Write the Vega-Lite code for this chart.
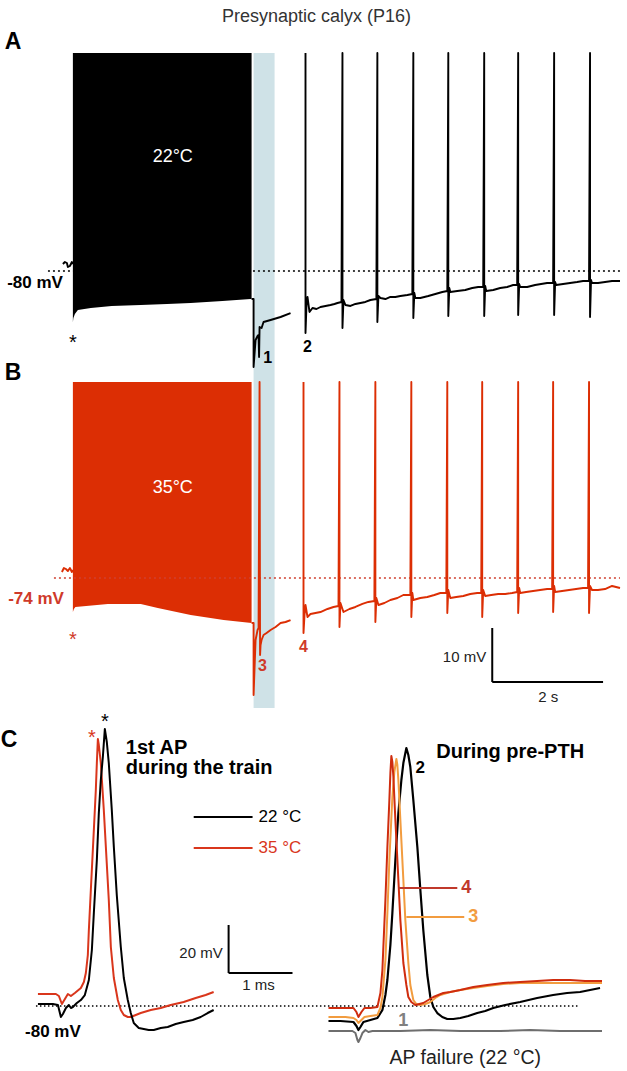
{
"$schema":"https://vega.github.io/schema/vega-lite/v6.json",
"width":627,"height":1071,"autosize":{"type":"fit","contains":"padding"},"padding":0,"background":"white",
"config":{"view":{"stroke":null},"text":{"font":"Liberation Sans"}},
"resolve":{"scale":{"x":"independent","y":"independent"}},
"layer":[
{"layer":[
 {"data":{"values":[{"t1":3.261,"t2":3.640,"v1":-39.63,"v2":-160.93}]},"mark":{"type":"rect","color":"#cfe2e7"},
  "encoding":{"x":{"field":"t1","type":"quantitative","scale":{"domain":[-1.2973,10],"nice":false,"zero":false},"axis":null},"x2":{"field":"t2"},
   "y":{"field":"v1","type":"quantitative","scale":{"domain":[-228.15,-29.815],"nice":false,"zero":false},"axis":null},"y2":{"field":"v2"}}},
 {"data":{"values":[{"t":0,"hi":-39.63,"lo":-89.44},{"t":0.009,"hi":-39.63,"lo":-88.7},{"t":0.036,"hi":-39.63,"lo":-87.96},{"t":0.09,"hi":-39.63,"lo":-87.22},{"t":0.324,"hi":-39.63,"lo":-86.85},{"t":0.7,"hi":-39.63,"lo":-86.48},{"t":1.225,"hi":-39.63,"lo":-86.3},{"t":1.7,"hi":-39.63,"lo":-86.11},{"t":2.126,"hi":-39.63,"lo":-85.93},{"t":2.7,"hi":-39.63,"lo":-85.56},{"t":3.207,"hi":-39.63,"lo":-85.19},{"t":3.225,"hi":-39.63,"lo":-85.19}]},
  "mark":{"type":"area","color":"#000000","opacity":1},
  "encoding":{"x":{"field":"t","type":"quantitative","scale":{"domain":[-1.2973,10],"nice":false,"zero":false},"axis":null},
   "y":{"field":"hi","type":"quantitative","scale":{"domain":[-228.15,-29.815],"nice":false,"zero":false},"axis":null},"y2":{"field":"lo"}}},
 {"data":{"values":[{"t1":-0.45,"t2":9.874,"v":-80}]},"mark":{"type":"rule","color":"#000000","strokeDash":[2,3],"strokeWidth":1.7},
  "encoding":{"x":{"field":"t1","type":"quantitative","scale":{"domain":[-1.2973,10],"nice":false,"zero":false},"axis":null},"x2":{"field":"t2"},
   "y":{"field":"v","type":"quantitative","scale":{"domain":[-228.15,-29.815],"nice":false,"zero":false},"axis":null}}},
 {"data":{"values":[
  {"s":0,"t":-0.18,"v":-78.7},{"s":0,"t":-0.144,"v":-78.33},{"s":0,"t":-0.108,"v":-78.52},{"s":0,"t":-0.09,"v":-79.26},{"s":0,"t":-0.054,"v":-79.07},{"s":0,"t":-0.018,"v":-78.33},{"s":0,"t":0,"v":-78.7},
  {"s":1,"t":3.225,"v":-85.19},{"s":1,"t":3.261,"v":-85.19},{"s":1,"t":3.261,"v":-97.78},{"s":1,"t":3.297,"v":-92.78},{"s":1,"t":3.333,"v":-92.04},{"s":1,"t":3.351,"v":-91.85},{"s":1,"t":3.36,"v":-95.93},{"s":1,"t":3.369,"v":-90.37},{"s":1,"t":3.405,"v":-90.56},{"s":1,"t":3.441,"v":-89.44},{"s":1,"t":3.568,"v":-89.07},{"s":1,"t":3.748,"v":-88.52},{"s":1,"t":3.928,"v":-87.78},
  {"s":2,"t":4.198,"v":-39.63},{"s":2,"t":4.198,"v":-91.48},{"s":2,"t":4.216,"v":-86.3},{"s":2,"t":4.234,"v":-84.81},{"s":2,"t":4.27,"v":-87.59},{"s":2,"t":4.324,"v":-86.85},{"s":2,"t":4.396,"v":-87.04},{"s":2,"t":4.468,"v":-86.67},{"s":2,"t":4.559,"v":-86.48},{"s":2,"t":4.649,"v":-86.3},{"s":2,"t":4.721,"v":-86.11},{"s":2,"t":4.775,"v":-85.93},{"s":2,"t":4.847,"v":-85.74},
  {"s":2,"t":4.865,"v":-39.63},{"s":2,"t":4.865,"v":-90.56},{"s":2,"t":4.883,"v":-85.37},{"s":2,"t":4.919,"v":-86.3},{"s":2,"t":5.009,"v":-86.48},{"s":2,"t":5.099,"v":-86.11},{"s":2,"t":5.189,"v":-85.93},{"s":2,"t":5.279,"v":-85.74},{"s":2,"t":5.369,"v":-85.37},{"s":2,"t":5.477,"v":-85.19},
  {"s":2,"t":5.495,"v":-39.63},{"s":2,"t":5.495,"v":-89.44},{"s":2,"t":5.514,"v":-84.63},{"s":2,"t":5.55,"v":-85.0},{"s":2,"t":5.64,"v":-85.19},{"s":2,"t":5.73,"v":-84.81},{"s":2,"t":5.82,"v":-84.81},{"s":2,"t":5.91,"v":-84.63},{"s":2,"t":6.036,"v":-84.44},{"s":2,"t":6.126,"v":-84.26},
  {"s":2,"t":6.144,"v":-39.63},{"s":2,"t":6.144,"v":-88.7},{"s":2,"t":6.162,"v":-84.07},{"s":2,"t":6.18,"v":-85.0},{"s":2,"t":6.27,"v":-85.0},{"s":2,"t":6.414,"v":-84.63},{"s":2,"t":6.541,"v":-84.26},{"s":2,"t":6.667,"v":-83.89},{"s":2,"t":6.757,"v":-83.7},
  {"s":2,"t":6.775,"v":-39.63},{"s":2,"t":6.775,"v":-88.33},{"s":2,"t":6.793,"v":-83.15},{"s":2,"t":6.811,"v":-83.89},{"s":2,"t":6.937,"v":-83.7},{"s":2,"t":7.081,"v":-83.52},{"s":2,"t":7.207,"v":-83.15},{"s":2,"t":7.315,"v":-82.96},{"s":2,"t":7.405,"v":-82.96},
  {"s":2,"t":7.423,"v":-39.63},{"s":2,"t":7.423,"v":-88.33},{"s":2,"t":7.441,"v":-82.78},{"s":2,"t":7.459,"v":-83.7},{"s":2,"t":7.586,"v":-83.52},{"s":2,"t":7.712,"v":-83.15},{"s":2,"t":7.838,"v":-82.96},{"s":2,"t":7.946,"v":-82.59},{"s":2,"t":8.018,"v":-82.59},
  {"s":2,"t":8.036,"v":-39.63},{"s":2,"t":8.036,"v":-88.15},{"s":2,"t":8.054,"v":-82.41},{"s":2,"t":8.072,"v":-82.96},{"s":2,"t":8.198,"v":-82.96},{"s":2,"t":8.342,"v":-82.59},{"s":2,"t":8.45,"v":-82.41},{"s":2,"t":8.559,"v":-82.22},{"s":2,"t":8.667,"v":-82.22},
  {"s":2,"t":8.685,"v":-39.63},{"s":2,"t":8.685,"v":-88.15},{"s":2,"t":8.703,"v":-82.04},{"s":2,"t":8.721,"v":-82.59},{"s":2,"t":8.847,"v":-82.41},{"s":2,"t":8.973,"v":-82.22},{"s":2,"t":9.099,"v":-82.04},{"s":2,"t":9.207,"v":-81.85},{"s":2,"t":9.315,"v":-81.85},
  {"s":2,"t":9.333,"v":-39.63},{"s":2,"t":9.333,"v":-88.52},{"s":2,"t":9.351,"v":-81.67},{"s":2,"t":9.369,"v":-82.22},{"s":2,"t":9.477,"v":-82.22},{"s":2,"t":9.604,"v":-82.04},{"s":2,"t":9.73,"v":-81.85},{"s":2,"t":9.874,"v":-81.85}]},
  "mark":{"type":"line","color":"#000000","strokeWidth":1.9,"strokeJoin":"round"},
  "encoding":{"x":{"field":"t","type":"quantitative","scale":{"domain":[-1.2973,10],"nice":false,"zero":false},"axis":null},
   "y":{"field":"v","type":"quantitative","scale":{"domain":[-228.15,-29.815],"nice":false,"zero":false},"axis":null},"detail":{"field":"s"},"order":{"value":null}}},
 {"data":{"values":[{"t":4.396,"v":-32.96,"label":"Presynaptic calyx (P16)"}]},"mark":{"type":"text","fontSize":18,"color":"#333333","align":"center","baseline":"middle"},
  "encoding":{"x":{"field":"t","type":"quantitative","scale":{"domain":[-1.2973,10],"nice":false,"zero":false},"axis":null},"y":{"field":"v","type":"quantitative","scale":{"domain":[-228.15,-29.815],"nice":false,"zero":false},"axis":null},"text":{"field":"label"}}},
 {"data":{"values":[{"t":-1.081,"v":-37.59,"label":"A"}]},"mark":{"type":"text","fontSize":23,"fontWeight":"bold","color":"#000000","align":"center","baseline":"middle"},
  "encoding":{"x":{"field":"t","type":"quantitative","scale":{"domain":[-1.2973,10],"nice":false,"zero":false},"axis":null},"y":{"field":"v","type":"quantitative","scale":{"domain":[-228.15,-29.815],"nice":false,"zero":false},"axis":null},"text":{"field":"label"}}},
 {"data":{"values":[{"t":1.802,"v":-58.89,"label":"22°C"}]},"mark":{"type":"text","fontSize":18,"color":"#ffffff","align":"center","baseline":"middle"},
  "encoding":{"x":{"field":"t","type":"quantitative","scale":{"domain":[-1.2973,10],"nice":false,"zero":false},"axis":null},"y":{"field":"v","type":"quantitative","scale":{"domain":[-228.15,-29.815],"nice":false,"zero":false},"axis":null},"text":{"field":"label"}}},
 {"data":{"values":[{"t":-0.18,"v":-82.22,"label":"-80 mV"}]},"mark":{"type":"text","fontSize":17,"fontWeight":"bold","color":"#000000","align":"right","baseline":"middle"},
  "encoding":{"x":{"field":"t","type":"quantitative","scale":{"domain":[-1.2973,10],"nice":false,"zero":false},"axis":null},"y":{"field":"v","type":"quantitative","scale":{"domain":[-228.15,-29.815],"nice":false,"zero":false},"axis":null},"text":{"field":"label"}}},
 {"data":{"values":[{"t":0,"v":-93.3,"label":"*"}]},"mark":{"type":"text","fontSize":20,"color":"#000000","align":"center","baseline":"middle"},
  "encoding":{"x":{"field":"t","type":"quantitative","scale":{"domain":[-1.2973,10],"nice":false,"zero":false},"axis":null},"y":{"field":"v","type":"quantitative","scale":{"domain":[-228.15,-29.815],"nice":false,"zero":false},"axis":null},"text":{"field":"label"}}},
 {"data":{"values":[{"t":3.514,"v":-96.11,"label":"1"},{"t":4.234,"v":-94.07,"label":"2"}]},"mark":{"type":"text","fontSize":16,"fontWeight":"bold","color":"#000000","align":"center","baseline":"middle"},
  "encoding":{"x":{"field":"t","type":"quantitative","scale":{"domain":[-1.2973,10],"nice":false,"zero":false},"axis":null},"y":{"field":"v","type":"quantitative","scale":{"domain":[-228.15,-29.815],"nice":false,"zero":false},"axis":null},"text":{"field":"label"}}}
]},
{"layer":[
 {"data":{"values":[{"t":0,"hi":-37.7,"lo":-80.3},{"t":0.018,"hi":-37.7,"lo":-79.74},{"t":0.045,"hi":-37.7,"lo":-79.37},{"t":0.631,"hi":-37.7,"lo":-78.81},{"t":1.225,"hi":-37.7,"lo":-78.81},{"t":1.532,"hi":-37.7,"lo":-79.56},{"t":2.126,"hi":-37.7,"lo":-80.85},{"t":2.721,"hi":-37.7,"lo":-81.78},{"t":3.225,"hi":-37.7,"lo":-82.33}]},
  "mark":{"type":"area","color":"#dc2e04","opacity":1},
  "encoding":{"x":{"field":"t","type":"quantitative","scale":{"domain":[-1.2973,10],"nice":false,"zero":false},"axis":null},
   "y":{"field":"hi","type":"quantitative","scale":{"domain":[-165.3,33.04],"nice":false,"zero":false},"axis":null},"y2":{"field":"lo"}}},
 {"data":{"values":[{"t1":-0.342,"t2":9.874,"v":-74}]},"mark":{"type":"rule","color":"#d04030","strokeDash":[2,3],"strokeWidth":1.7},
  "encoding":{"x":{"field":"t1","type":"quantitative","scale":{"domain":[-1.2973,10],"nice":false,"zero":false},"axis":null},"x2":{"field":"t2"},
   "y":{"field":"v","type":"quantitative","scale":{"domain":[-165.3,33.04],"nice":false,"zero":false},"axis":null}}},
 {"data":{"values":[
  {"s":0,"t":-0.198,"v":-72.89},{"s":0,"t":-0.162,"v":-72.15},{"s":0,"t":-0.126,"v":-72.33},{"s":0,"t":-0.09,"v":-72.7},{"s":0,"t":-0.054,"v":-72.15},{"s":0,"t":-0.018,"v":-72.89},{"s":0,"t":0,"v":-72.52},
  {"s":1,"t":3.225,"v":-82.33},{"s":1,"t":3.261,"v":-82.33},{"s":1,"t":3.261,"v":-95.67},{"s":1,"t":3.297,"v":-85.48},{"s":1,"t":3.333,"v":-83.63},{"s":1,"t":3.351,"v":-83.26},{"s":1,"t":3.369,"v":-37.7},{"s":1,"t":3.378,"v":-88.26},{"s":1,"t":3.387,"v":-86.41},{"s":1,"t":3.405,"v":-85.48},{"s":1,"t":3.441,"v":-84.56},{"s":1,"t":3.495,"v":-84.19},{"s":1,"t":3.568,"v":-83.63},{"s":1,"t":3.658,"v":-83.07},{"s":1,"t":3.748,"v":-82.33},{"s":1,"t":3.838,"v":-82.15},{"s":1,"t":3.928,"v":-81.78},
  {"s":2,"t":4.162,"v":-37.7},{"s":2,"t":4.162,"v":-84.19},{"s":2,"t":4.18,"v":-80.85},{"s":2,"t":4.198,"v":-79.0},{"s":2,"t":4.234,"v":-81.22},{"s":2,"t":4.288,"v":-80.67},{"s":2,"t":4.378,"v":-80.48},{"s":2,"t":4.468,"v":-80.3},{"s":2,"t":4.595,"v":-79.74},{"s":2,"t":4.703,"v":-79.37},{"s":2,"t":4.793,"v":-79.19},
  {"s":2,"t":4.811,"v":-37.7},{"s":2,"t":4.811,"v":-83.07},{"s":2,"t":4.829,"v":-78.63},{"s":2,"t":4.883,"v":-80.3},{"s":2,"t":4.991,"v":-79.74},{"s":2,"t":5.099,"v":-79.37},{"s":2,"t":5.225,"v":-78.81},{"s":2,"t":5.333,"v":-78.44},{"s":2,"t":5.441,"v":-78.26},
  {"s":2,"t":5.459,"v":-37.7},{"s":2,"t":5.459,"v":-82.15},{"s":2,"t":5.477,"v":-77.7},{"s":2,"t":5.514,"v":-79.0},{"s":2,"t":5.622,"v":-78.63},{"s":2,"t":5.73,"v":-78.07},{"s":2,"t":5.856,"v":-77.7},{"s":2,"t":5.964,"v":-77.15},{"s":2,"t":6.09,"v":-77.15},
  {"s":2,"t":6.108,"v":-37.7},{"s":2,"t":6.108,"v":-81.22},{"s":2,"t":6.126,"v":-76.78},{"s":2,"t":6.144,"v":-78.07},{"s":2,"t":6.27,"v":-77.7},{"s":2,"t":6.396,"v":-77.52},{"s":2,"t":6.523,"v":-77.15},{"s":2,"t":6.631,"v":-76.78},{"s":2,"t":6.739,"v":-76.78},
  {"s":2,"t":6.757,"v":-37.7},{"s":2,"t":6.757,"v":-80.48},{"s":2,"t":6.775,"v":-76.22},{"s":2,"t":6.811,"v":-77.7},{"s":2,"t":6.919,"v":-77.52},{"s":2,"t":7.045,"v":-77.33},{"s":2,"t":7.171,"v":-76.96},{"s":2,"t":7.297,"v":-76.78},{"s":2,"t":7.369,"v":-76.78},
  {"s":2,"t":7.387,"v":-37.7},{"s":2,"t":7.387,"v":-81.22},{"s":2,"t":7.405,"v":-76.22},{"s":2,"t":7.441,"v":-77.33},{"s":2,"t":7.55,"v":-77.15},{"s":2,"t":7.676,"v":-76.96},{"s":2,"t":7.802,"v":-76.96},{"s":2,"t":7.928,"v":-76.78},{"s":2,"t":8.018,"v":-76.59},
  {"s":2,"t":8.036,"v":-37.7},{"s":2,"t":8.036,"v":-80.48},{"s":2,"t":8.054,"v":-75.85},{"s":2,"t":8.072,"v":-76.78},{"s":2,"t":8.18,"v":-76.59},{"s":2,"t":8.306,"v":-76.41},{"s":2,"t":8.432,"v":-76.22},{"s":2,"t":8.559,"v":-76.04},{"s":2,"t":8.649,"v":-76.04},
  {"s":2,"t":8.667,"v":-37.7},{"s":2,"t":8.667,"v":-80.3},{"s":2,"t":8.685,"v":-75.48},{"s":2,"t":8.703,"v":-76.59},{"s":2,"t":8.829,"v":-76.41},{"s":2,"t":8.955,"v":-76.22},{"s":2,"t":9.081,"v":-76.04},{"s":2,"t":9.207,"v":-75.85},{"s":2,"t":9.297,"v":-75.85},
  {"s":2,"t":9.315,"v":-37.7},{"s":2,"t":9.315,"v":-80.48},{"s":2,"t":9.333,"v":-75.48},{"s":2,"t":9.369,"v":-76.22},{"s":2,"t":9.477,"v":-76.22},{"s":2,"t":9.604,"v":-76.04},{"s":2,"t":9.73,"v":-75.48},{"s":2,"t":9.874,"v":-75.85}]},
  "mark":{"type":"line","color":"#dc2e04","strokeWidth":1.9,"strokeJoin":"round"},
  "encoding":{"x":{"field":"t","type":"quantitative","scale":{"domain":[-1.2973,10],"nice":false,"zero":false},"axis":null},
   "y":{"field":"v","type":"quantitative","scale":{"domain":[-165.3,33.04],"nice":false,"zero":false},"axis":null},"detail":{"field":"s"},"order":{"value":null}}},
 {"data":{"values":[{"t1":7.568,"t2":7.568,"v1":-83.26,"v2":-93.26},{"t1":7.568,"t2":9.568,"v1":-93.26,"v2":-93.26}]},"mark":{"type":"rule","color":"#000000","strokeWidth":2},
  "encoding":{"x":{"field":"t1","type":"quantitative","scale":{"domain":[-1.2973,10],"nice":false,"zero":false},"axis":null},"x2":{"field":"t2"},
   "y":{"field":"v1","type":"quantitative","scale":{"domain":[-165.3,33.04],"nice":false,"zero":false},"axis":null},"y2":{"field":"v2"}}},
 {"data":{"values":[{"t":-1.081,"v":-36.04,"label":"B"}]},"mark":{"type":"text","fontSize":23,"fontWeight":"bold","color":"#000000","align":"center","baseline":"middle"},
  "encoding":{"x":{"field":"t","type":"quantitative","scale":{"domain":[-1.2973,10],"nice":false,"zero":false},"axis":null},"y":{"field":"v","type":"quantitative","scale":{"domain":[-165.3,33.04],"nice":false,"zero":false},"axis":null},"text":{"field":"label"}}},
 {"data":{"values":[{"t":1.802,"v":-57.33,"label":"35°C"}]},"mark":{"type":"text","fontSize":18,"color":"#ffffff","align":"center","baseline":"middle"},
  "encoding":{"x":{"field":"t","type":"quantitative","scale":{"domain":[-1.2973,10],"nice":false,"zero":false},"axis":null},"y":{"field":"v","type":"quantitative","scale":{"domain":[-165.3,33.04],"nice":false,"zero":false},"axis":null},"text":{"field":"label"}}},
 {"data":{"values":[{"t":-0.162,"v":-77.89,"label":"-74 mV"}]},"mark":{"type":"text","fontSize":17,"fontWeight":"bold","color":"#cf3a2a","align":"right","baseline":"middle"},
  "encoding":{"x":{"field":"t","type":"quantitative","scale":{"domain":[-1.2973,10],"nice":false,"zero":false},"axis":null},"y":{"field":"v","type":"quantitative","scale":{"domain":[-165.3,33.04],"nice":false,"zero":false},"axis":null},"text":{"field":"label"}}},
 {"data":{"values":[{"t":0,"v":-85.48,"label":"*"}]},"mark":{"type":"text","fontSize":20,"color":"#cf3a2a","align":"center","baseline":"middle"},
  "encoding":{"x":{"field":"t","type":"quantitative","scale":{"domain":[-1.2973,10],"nice":false,"zero":false},"axis":null},"y":{"field":"v","type":"quantitative","scale":{"domain":[-165.3,33.04],"nice":false,"zero":false},"axis":null},"text":{"field":"label"}}},
 {"data":{"values":[{"t":3.423,"v":-90.3,"label":"3"},{"t":4.162,"v":-86.78,"label":"4"}]},"mark":{"type":"text","fontSize":16,"fontWeight":"bold","color":"#cf3a2a","align":"center","baseline":"middle"},
  "encoding":{"x":{"field":"t","type":"quantitative","scale":{"domain":[-1.2973,10],"nice":false,"zero":false},"axis":null},"y":{"field":"v","type":"quantitative","scale":{"domain":[-165.3,33.04],"nice":false,"zero":false},"axis":null},"text":{"field":"label"}}},
 {"data":{"values":[{"t":7.459,"v":-88.63,"label":"10 mV"}]},"mark":{"type":"text","fontSize":15,"color":"#222222","align":"right","baseline":"middle"},
  "encoding":{"x":{"field":"t","type":"quantitative","scale":{"domain":[-1.2973,10],"nice":false,"zero":false},"axis":null},"y":{"field":"v","type":"quantitative","scale":{"domain":[-165.3,33.04],"nice":false,"zero":false},"axis":null},"text":{"field":"label"}}},
 {"data":{"values":[{"t":8.577,"v":-96.04,"label":"2 s"}]},"mark":{"type":"text","fontSize":15,"color":"#222222","align":"center","baseline":"middle"},
  "encoding":{"x":{"field":"t","type":"quantitative","scale":{"domain":[-1.2973,10],"nice":false,"zero":false},"axis":null},"y":{"field":"v","type":"quantitative","scale":{"domain":[-165.3,33.04],"nice":false,"zero":false},"axis":null},"text":{"field":"label"}}}
]},
{"layer":[
 {"data":{"values":[{"t1":-0.031,"t2":8.453,"v":-80}]},"mark":{"type":"rule","color":"#000000","strokeDash":[1.5,2.5],"strokeWidth":1.3},
  "encoding":{"x":{"field":"t1","type":"quantitative","scale":{"domain":[-0.578,9.219],"nice":false,"zero":false},"axis":null},"x2":{"field":"t2"},
   "y":{"field":"v","type":"quantitative","scale":{"domain":[-107.08,339.17],"nice":false,"zero":false},"axis":null}}},
 {"data":{"values":[
  {"t":0,"v":-75.0},{"t":0.125,"v":-75.0},{"t":0.281,"v":-75.0},{"t":0.328,"v":-75.83},{"t":0.375,"v":-79.17},{"t":0.422,"v":-77.08},{"t":0.469,"v":-75.0},{"t":0.516,"v":-75.83},{"t":0.578,"v":-74.58},{"t":0.672,"v":-72.5},{"t":0.719,"v":-70.0},{"t":0.75,"v":-66.25},{"t":0.781,"v":-58.75},{"t":0.797,"v":-48.33},{"t":0.828,"v":-31.67},{"t":0.875,"v":-6.67},{"t":0.906,"v":10.0},{"t":0.922,"v":21.25},{"t":0.938,"v":31.25},{"t":0.953,"v":28.75},{"t":0.984,"v":21.25},{"t":1.031,"v":1.67},{"t":1.063,"v":-13.75},{"t":1.109,"v":-35.83},{"t":1.141,"v":-55.42},{"t":1.188,"v":-68.33},{"t":1.25,"v":-77.5},{"t":1.297,"v":-81.67},{"t":1.344,"v":-83.75},{"t":1.406,"v":-84.58},{"t":1.453,"v":-84.58},{"t":1.531,"v":-83.75},{"t":1.609,"v":-82.92},{"t":1.766,"v":-81.67},{"t":1.922,"v":-80.83},{"t":2.078,"v":-79.58},{"t":2.281,"v":-78.33},{"t":2.469,"v":-76.67},{"t":2.625,"v":-75.42},{"t":2.75,"v":-74.17}]},
  "mark":{"type":"line","color":"#d9361c","strokeWidth":2,"strokeJoin":"round"},
  "encoding":{"x":{"field":"t","type":"quantitative","scale":{"domain":[-0.578,9.219],"nice":false,"zero":false},"axis":null},
   "y":{"field":"v","type":"quantitative","scale":{"domain":[-107.08,339.17],"nice":false,"zero":false},"axis":null},"order":{"value":null}}},
 {"data":{"values":[
  {"t":0,"v":-79.17},{"t":0.125,"v":-79.17},{"t":0.234,"v":-79.17},{"t":0.313,"v":-79.58},{"t":0.359,"v":-84.58},{"t":0.391,"v":-83.33},{"t":0.438,"v":-80.83},{"t":0.484,"v":-79.58},{"t":0.516,"v":-80.83},{"t":0.547,"v":-80.42},{"t":0.609,"v":-78.75},{"t":0.672,"v":-77.5},{"t":0.734,"v":-75.42},{"t":0.797,"v":-69.17},{"t":0.844,"v":-56.67},{"t":0.875,"v":-41.25},{"t":0.922,"v":-19.17},{"t":0.953,"v":0.42},{"t":0.984,"v":14.17},{"t":1.016,"v":23.75},{"t":1.047,"v":35.42},{"t":1.078,"v":30.0},{"t":1.109,"v":21.25},{"t":1.156,"v":1.67},{"t":1.188,"v":-13.75},{"t":1.234,"v":-33.75},{"t":1.297,"v":-55.42},{"t":1.344,"v":-68.33},{"t":1.406,"v":-77.5},{"t":1.453,"v":-82.92},{"t":1.5,"v":-87.08},{"t":1.578,"v":-89.17},{"t":1.656,"v":-89.58},{"t":1.734,"v":-90.0},{"t":1.813,"v":-90.0},{"t":1.922,"v":-89.17},{"t":2.031,"v":-88.75},{"t":2.156,"v":-87.5},{"t":2.281,"v":-86.67},{"t":2.422,"v":-85.83},{"t":2.547,"v":-84.58},{"t":2.656,"v":-82.92},{"t":2.75,"v":-81.67}]},
  "mark":{"type":"line","color":"#000000","strokeWidth":2,"strokeJoin":"round"},
  "encoding":{"x":{"field":"t","type":"quantitative","scale":{"domain":[-0.578,9.219],"nice":false,"zero":false},"axis":null},
   "y":{"field":"v","type":"quantitative","scale":{"domain":[-107.08,339.17],"nice":false,"zero":false},"axis":null},"order":{"value":null}}},
 {"data":{"values":[{"t1":2.438,"t2":3.359,"v1":-1.25,"v2":-1.25},{"t1":2.984,"t2":2.984,"v1":-46.25,"v2":-66.25},{"t1":2.984,"t2":3.984,"v1":-66.25,"v2":-66.25}]},"mark":{"type":"rule","color":"#000000","strokeWidth":2},
  "encoding":{"x":{"field":"t1","type":"quantitative","scale":{"domain":[-0.578,9.219],"nice":false,"zero":false},"axis":null},"x2":{"field":"t2"},
   "y":{"field":"v1","type":"quantitative","scale":{"domain":[-107.08,339.17],"nice":false,"zero":false},"axis":null},"y2":{"field":"v2"}}},
 {"data":{"values":[{"t1":2.438,"t2":3.359,"v1":-14.17,"v2":-14.17}]},"mark":{"type":"rule","color":"#d9361c","strokeWidth":2},
  "encoding":{"x":{"field":"t1","type":"quantitative","scale":{"domain":[-0.578,9.219],"nice":false,"zero":false},"axis":null},"x2":{"field":"t2"},
   "y":{"field":"v1","type":"quantitative","scale":{"domain":[-107.08,339.17],"nice":false,"zero":false},"axis":null},"y2":{"field":"v2"}}},
 {"data":{"values":[{"t":-0.453,"v":30.83,"label":"C"}]},"mark":{"type":"text","fontSize":23,"fontWeight":"bold","color":"#000000","align":"center","baseline":"middle"},
  "encoding":{"x":{"field":"t","type":"quantitative","scale":{"domain":[-0.578,9.219],"nice":false,"zero":false},"axis":null},"y":{"field":"v","type":"quantitative","scale":{"domain":[-107.08,339.17],"nice":false,"zero":false},"axis":null},"text":{"field":"label"}}},
 {"data":{"values":[{"t":0.234,"v":-90.83,"label":"-80 mV"}]},"mark":{"type":"text","fontSize":17,"fontWeight":"bold","color":"#000000","align":"center","baseline":"middle"},
  "encoding":{"x":{"field":"t","type":"quantitative","scale":{"domain":[-0.578,9.219],"nice":false,"zero":false},"axis":null},"y":{"field":"v","type":"quantitative","scale":{"domain":[-107.08,339.17],"nice":false,"zero":false},"axis":null},"text":{"field":"label"}}},
 {"data":{"values":[{"t":1.047,"v":38.33,"label":"*"}]},"mark":{"type":"text","fontSize":20,"color":"#000000","align":"center","baseline":"middle"},
  "encoding":{"x":{"field":"t","type":"quantitative","scale":{"domain":[-0.578,9.219],"nice":false,"zero":false},"axis":null},"y":{"field":"v","type":"quantitative","scale":{"domain":[-107.08,339.17],"nice":false,"zero":false},"axis":null},"text":{"field":"label"}}},
 {"data":{"values":[{"t":0.844,"v":31.67,"label":"*"}]},"mark":{"type":"text","fontSize":20,"color":"#d9361c","align":"center","baseline":"middle"},
  "encoding":{"x":{"field":"t","type":"quantitative","scale":{"domain":[-0.578,9.219],"nice":false,"zero":false},"axis":null},"y":{"field":"v","type":"quantitative","scale":{"domain":[-107.08,339.17],"nice":false,"zero":false},"axis":null},"text":{"field":"label"}}},
 {"data":{"values":[{"t":1.375,"v":27.5,"label":"1st AP"},{"t":1.375,"v":19.2,"label":"during the train"}]},"mark":{"type":"text","fontSize":20,"fontWeight":"bold","color":"#000000","align":"left","baseline":"middle"},
  "encoding":{"x":{"field":"t","type":"quantitative","scale":{"domain":[-0.578,9.219],"nice":false,"zero":false},"axis":null},"y":{"field":"v","type":"quantitative","scale":{"domain":[-107.08,339.17],"nice":false,"zero":false},"axis":null},"text":{"field":"label"}}},
 {"data":{"values":[{"t":3.453,"v":-1.25,"label":"22 °C"}]},"mark":{"type":"text","fontSize":17,"color":"#000000","align":"left","baseline":"middle"},
  "encoding":{"x":{"field":"t","type":"quantitative","scale":{"domain":[-0.578,9.219],"nice":false,"zero":false},"axis":null},"y":{"field":"v","type":"quantitative","scale":{"domain":[-107.08,339.17],"nice":false,"zero":false},"axis":null},"text":{"field":"label"}}},
 {"data":{"values":[{"t":3.453,"v":-14.17,"label":"35 °C"}]},"mark":{"type":"text","fontSize":17,"color":"#d9361c","align":"left","baseline":"middle"},
  "encoding":{"x":{"field":"t","type":"quantitative","scale":{"domain":[-0.578,9.219],"nice":false,"zero":false},"axis":null},"y":{"field":"v","type":"quantitative","scale":{"domain":[-107.08,339.17],"nice":false,"zero":false},"axis":null},"text":{"field":"label"}}},
 {"data":{"values":[{"t":2.891,"v":-57.92,"label":"20 mV"}]},"mark":{"type":"text","fontSize":15,"color":"#222222","align":"right","baseline":"middle"},
  "encoding":{"x":{"field":"t","type":"quantitative","scale":{"domain":[-0.578,9.219],"nice":false,"zero":false},"axis":null},"y":{"field":"v","type":"quantitative","scale":{"domain":[-107.08,339.17],"nice":false,"zero":false},"axis":null},"text":{"field":"label"}}},
 {"data":{"values":[{"t":3.453,"v":-71.25,"label":"1 ms"}]},"mark":{"type":"text","fontSize":15,"color":"#222222","align":"center","baseline":"middle"},
  "encoding":{"x":{"field":"t","type":"quantitative","scale":{"domain":[-0.578,9.219],"nice":false,"zero":false},"axis":null},"y":{"field":"v","type":"quantitative","scale":{"domain":[-107.08,339.17],"nice":false,"zero":false},"axis":null},"text":{"field":"label"}}}
]},
{"layer":[
 {"data":{"values":[
  {"t":0,"v":-90.42},{"t":0.188,"v":-90.42},{"t":0.375,"v":-90.42},{"t":0.422,"v":-91.25},{"t":0.453,"v":-94.17},{"t":0.469,"v":-95.0},{"t":0.5,"v":-93.33},{"t":0.531,"v":-91.25},{"t":0.578,"v":-90.0},{"t":0.625,"v":-90.83},{"t":0.688,"v":-90.42},{"t":1.125,"v":-90.42},{"t":1.594,"v":-90.0},{"t":2.063,"v":-90.42},{"t":2.688,"v":-90.42},{"t":3.156,"v":-90.0},{"t":3.625,"v":-90.42},{"t":4.281,"v":-90.42}]},
  "mark":{"type":"line","color":"#6e6e6e","strokeWidth":2,"strokeJoin":"round"},
  "encoding":{"x":{"field":"t","type":"quantitative","scale":{"domain":[-5.125,4.672],"nice":false,"zero":false},"axis":null},
   "y":{"field":"v","type":"quantitative","scale":{"domain":[-107.08,339.17],"nice":false,"zero":false},"axis":null},"order":{"value":null}}},
 {"data":{"values":[
  {"t":0,"v":-86.25},{"t":0.188,"v":-86.25},{"t":0.391,"v":-86.67},{"t":0.438,"v":-88.33},{"t":0.469,"v":-90.0},{"t":0.5,"v":-88.75},{"t":0.547,"v":-86.67},{"t":0.656,"v":-85.83},{"t":0.766,"v":-85.0},{"t":0.844,"v":-81.67},{"t":0.891,"v":-75.42},{"t":0.922,"v":-69.17},{"t":0.969,"v":-54.58},{"t":1.0,"v":-41.25},{"t":1.047,"v":-19.17},{"t":1.094,"v":0.42},{"t":1.141,"v":14.17},{"t":1.172,"v":21.25},{"t":1.219,"v":27.5},{"t":1.25,"v":24.58},{"t":1.281,"v":19.58},{"t":1.328,"v":5.83},{"t":1.391,"v":-13.75},{"t":1.438,"v":-31.67},{"t":1.484,"v":-48.33},{"t":1.547,"v":-67.08},{"t":1.594,"v":-76.25},{"t":1.641,"v":-80.42},{"t":1.703,"v":-82.92},{"t":1.781,"v":-84.58},{"t":1.859,"v":-85.42},{"t":1.953,"v":-85.42},{"t":2.063,"v":-85.0},{"t":2.188,"v":-84.17},{"t":2.328,"v":-82.92},{"t":2.453,"v":-82.08},{"t":2.578,"v":-80.83},{"t":2.766,"v":-79.58},{"t":3.0,"v":-78.33},{"t":3.266,"v":-76.67},{"t":3.516,"v":-75.42},{"t":3.734,"v":-74.58},{"t":3.938,"v":-74.17},{"t":4.094,"v":-73.33},{"t":4.25,"v":-72.5}]},
  "mark":{"type":"line","color":"#000000","strokeWidth":2.2,"strokeJoin":"round"},
  "encoding":{"x":{"field":"t","type":"quantitative","scale":{"domain":[-5.125,4.672],"nice":false,"zero":false},"axis":null},
   "y":{"field":"v","type":"quantitative","scale":{"domain":[-107.08,339.17],"nice":false,"zero":false},"axis":null},"order":{"value":null}}},
 {"data":{"values":[
  {"t":0,"v":-84.58},{"t":0.266,"v":-84.58},{"t":0.391,"v":-85.0},{"t":0.438,"v":-85.83},{"t":0.469,"v":-87.08},{"t":0.516,"v":-85.83},{"t":0.563,"v":-84.58},{"t":0.656,"v":-84.17},{"t":0.766,"v":-83.75},{"t":0.813,"v":-80.83},{"t":0.844,"v":-76.25},{"t":0.891,"v":-60.83},{"t":0.922,"v":-41.25},{"t":0.953,"v":-19.17},{"t":1.0,"v":7.08},{"t":1.031,"v":17.5},{"t":1.063,"v":22.92},{"t":1.078,"v":20.42},{"t":1.094,"v":14.17},{"t":1.125,"v":-2.5},{"t":1.172,"v":-27.5},{"t":1.203,"v":-44.17},{"t":1.25,"v":-62.08},{"t":1.281,"v":-71.25},{"t":1.328,"v":-77.5},{"t":1.375,"v":-79.17},{"t":1.438,"v":-79.58},{"t":1.516,"v":-79.17},{"t":1.594,"v":-78.33},{"t":1.672,"v":-76.67},{"t":1.75,"v":-75.42},{"t":1.906,"v":-74.17},{"t":2.063,"v":-73.33},{"t":2.266,"v":-72.5},{"t":2.484,"v":-71.67},{"t":2.734,"v":-70.83},{"t":3.0,"v":-70.42},{"t":3.313,"v":-70.42},{"t":3.625,"v":-70.42},{"t":3.938,"v":-70.42},{"t":4.281,"v":-70.42}]},
  "mark":{"type":"line","color":"#f29c3f","strokeWidth":2,"strokeJoin":"round"},
  "encoding":{"x":{"field":"t","type":"quantitative","scale":{"domain":[-5.125,4.672],"nice":false,"zero":false},"axis":null},
   "y":{"field":"v","type":"quantitative","scale":{"domain":[-107.08,339.17],"nice":false,"zero":false},"axis":null},"order":{"value":null}}},
 {"data":{"values":[
  {"t":0,"v":-80.83},{"t":0.188,"v":-80.83},{"t":0.391,"v":-80.83},{"t":0.438,"v":-82.5},{"t":0.469,"v":-84.58},{"t":0.516,"v":-82.5},{"t":0.563,"v":-80.83},{"t":0.656,"v":-80.83},{"t":0.766,"v":-80.42},{"t":0.813,"v":-74.58},{"t":0.844,"v":-65.0},{"t":0.859,"v":-55.42},{"t":0.891,"v":-35.83},{"t":0.922,"v":-13.75},{"t":0.953,"v":5.83},{"t":0.969,"v":17.08},{"t":0.984,"v":24.17},{"t":1.0,"v":21.67},{"t":1.016,"v":15.42},{"t":1.047,"v":-2.5},{"t":1.094,"v":-27.5},{"t":1.125,"v":-44.17},{"t":1.172,"v":-62.08},{"t":1.219,"v":-71.25},{"t":1.25,"v":-76.25},{"t":1.297,"v":-78.33},{"t":1.359,"v":-79.58},{"t":1.422,"v":-79.17},{"t":1.484,"v":-78.75},{"t":1.563,"v":-77.5},{"t":1.641,"v":-76.25},{"t":1.719,"v":-75.42},{"t":1.797,"v":-74.58},{"t":1.906,"v":-74.17},{"t":2.063,"v":-73.33},{"t":2.266,"v":-72.08},{"t":2.484,"v":-71.25},{"t":2.734,"v":-70.42},{"t":3.0,"v":-70.0},{"t":3.266,"v":-69.58},{"t":3.516,"v":-69.17},{"t":3.781,"v":-69.17},{"t":4.016,"v":-69.58},{"t":4.281,"v":-69.58}]},
  "mark":{"type":"line","color":"#cf2c0e","strokeWidth":2,"strokeJoin":"round"},
  "encoding":{"x":{"field":"t","type":"quantitative","scale":{"domain":[-5.125,4.672],"nice":false,"zero":false},"axis":null},
   "y":{"field":"v","type":"quantitative","scale":{"domain":[-107.08,339.17],"nice":false,"zero":false},"axis":null},"order":{"value":null}}},
 {"data":{"values":[{"t1":1.094,"t2":2.016,"v":-30.83}]},"mark":{"type":"rule","color":"#c0392b","strokeWidth":1.8},
  "encoding":{"x":{"field":"t1","type":"quantitative","scale":{"domain":[-5.125,4.672],"nice":false,"zero":false},"axis":null},"x2":{"field":"t2"},
   "y":{"field":"v","type":"quantitative","scale":{"domain":[-107.08,339.17],"nice":false,"zero":false},"axis":null}}},
 {"data":{"values":[{"t1":1.219,"t2":2.125,"v":-42.92}]},"mark":{"type":"rule","color":"#f29c3f","strokeWidth":1.8},
  "encoding":{"x":{"field":"t1","type":"quantitative","scale":{"domain":[-5.125,4.672],"nice":false,"zero":false},"axis":null},"x2":{"field":"t2"},
   "y":{"field":"v","type":"quantitative","scale":{"domain":[-107.08,339.17],"nice":false,"zero":false},"axis":null}}},
 {"data":{"values":[{"t":2.844,"v":25.83,"label":"During pre-PTH"}]},"mark":{"type":"text","fontSize":20,"fontWeight":"bold","color":"#000000","align":"center","baseline":"middle"},
  "encoding":{"x":{"field":"t","type":"quantitative","scale":{"domain":[-5.125,4.672],"nice":false,"zero":false},"axis":null},"y":{"field":"v","type":"quantitative","scale":{"domain":[-107.08,339.17],"nice":false,"zero":false},"axis":null},"text":{"field":"label"}}},
 {"data":{"values":[{"t":1.438,"v":19.17,"label":"2"}]},"mark":{"type":"text","fontSize":17,"fontWeight":"bold","color":"#000000","align":"center","baseline":"middle"},
  "encoding":{"x":{"field":"t","type":"quantitative","scale":{"domain":[-5.125,4.672],"nice":false,"zero":false},"axis":null},"y":{"field":"v","type":"quantitative","scale":{"domain":[-107.08,339.17],"nice":false,"zero":false},"axis":null},"text":{"field":"label"}}},
 {"data":{"values":[{"t":2.078,"v":-30.83,"label":"4"}]},"mark":{"type":"text","fontSize":18,"fontWeight":"bold","color":"#c0392b","align":"left","baseline":"middle"},
  "encoding":{"x":{"field":"t","type":"quantitative","scale":{"domain":[-5.125,4.672],"nice":false,"zero":false},"axis":null},"y":{"field":"v","type":"quantitative","scale":{"domain":[-107.08,339.17],"nice":false,"zero":false},"axis":null},"text":{"field":"label"}}},
 {"data":{"values":[{"t":2.188,"v":-42.92,"label":"3"}]},"mark":{"type":"text","fontSize":18,"fontWeight":"bold","color":"#f29c3f","align":"left","baseline":"middle"},
  "encoding":{"x":{"field":"t","type":"quantitative","scale":{"domain":[-5.125,4.672],"nice":false,"zero":false},"axis":null},"y":{"field":"v","type":"quantitative","scale":{"domain":[-107.08,339.17],"nice":false,"zero":false},"axis":null},"text":{"field":"label"}}},
 {"data":{"values":[{"t":1.172,"v":-86.25,"label":"1"}]},"mark":{"type":"text","fontSize":18,"fontWeight":"bold","color":"#808080","align":"center","baseline":"middle"},
  "encoding":{"x":{"field":"t","type":"quantitative","scale":{"domain":[-5.125,4.672],"nice":false,"zero":false},"axis":null},"y":{"field":"v","type":"quantitative","scale":{"domain":[-107.08,339.17],"nice":false,"zero":false},"axis":null},"text":{"field":"label"}}},
 {"data":{"values":[{"t":2.141,"v":-101.67,"label":"AP failure (22 °C)"}]},"mark":{"type":"text","fontSize":19.5,"color":"#222222","align":"center","baseline":"middle"},
  "encoding":{"x":{"field":"t","type":"quantitative","scale":{"domain":[-5.125,4.672],"nice":false,"zero":false},"axis":null},"y":{"field":"v","type":"quantitative","scale":{"domain":[-107.08,339.17],"nice":false,"zero":false},"axis":null},"text":{"field":"label"}}}
]}
]
}
